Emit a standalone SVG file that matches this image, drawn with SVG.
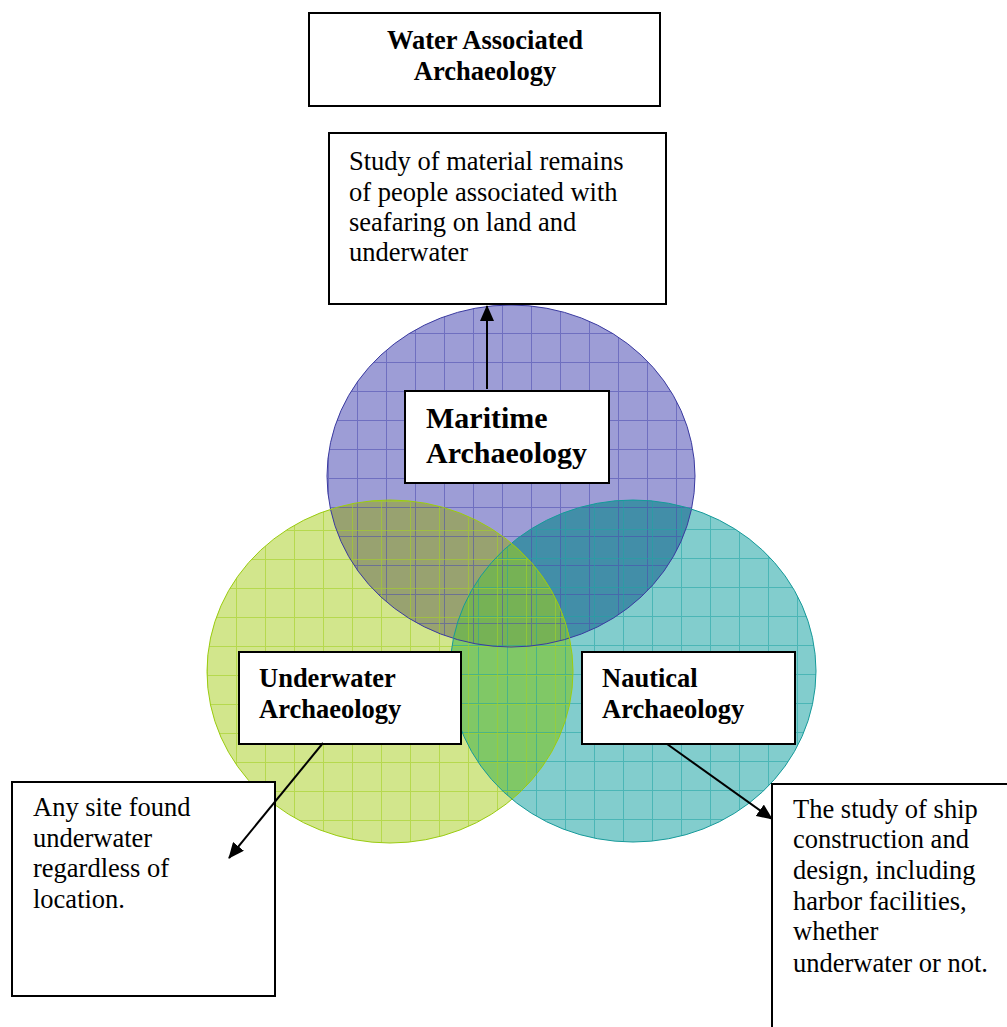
<svg xmlns="http://www.w3.org/2000/svg" width="1007" height="1027" viewBox="0 0 1007 1027">
<style>
.box{fill:#ffffff;stroke:#000000;stroke-width:2}
.t{font-family:"Liberation Serif","Times New Roman",serif;font-size:26.5px;fill:#000000}
.b{font-weight:bold}
.big{font-size:30px}
.conn{stroke:#000000;stroke-width:2;fill:none}
</style>
<defs>
<marker id="ah" markerWidth="16" markerHeight="14" refX="15" refY="7" orient="auto" markerUnits="userSpaceOnUse">
<path d="M0,0 L16,7 L0,14 z" fill="#000000"/>
</marker>
<clipPath id="cB"><ellipse cx="511" cy="476" rx="184" ry="171"/></clipPath>
<clipPath id="cG"><ellipse cx="390" cy="671.5" rx="183" ry="171.5"/></clipPath>
<clipPath id="cT"><ellipse cx="633" cy="671" rx="183" ry="171"/></clipPath>
<pattern id="gB" patternUnits="userSpaceOnUse" x="9" y="14" width="29" height="29">
<path d="M0.5,0 V29 M0,0.5 H29" stroke="#4a4aae" stroke-width="1" fill="none"/>
</pattern>
<pattern id="gG" patternUnits="userSpaceOnUse" x="4" y="8" width="29" height="29">
<path d="M0.5,0 V29 M0,0.5 H29" stroke="#a3d125" stroke-width="1" fill="none"/>
</pattern>
<pattern id="gT" patternUnits="userSpaceOnUse" x="14" y="7" width="29" height="29">
<path d="M0.5,0 V29 M0,0.5 H29" stroke="#1ea3a3" stroke-width="1" fill="none"/>
</pattern>
</defs>
<rect width="1007" height="1027" fill="#ffffff"/>

<g id="venn">
<ellipse cx="511" cy="476" rx="184" ry="171" fill="#9d9dd6"/>
<ellipse cx="633" cy="671" rx="183" ry="171" fill="#82cdcd"/>
<ellipse cx="390" cy="671.5" rx="183" ry="171.5" fill="#d2e68c"/>
<g clip-path="url(#cB)"><ellipse cx="633" cy="671" rx="183" ry="171" fill="#428ea8"/></g>
<g clip-path="url(#cB)"><ellipse cx="390" cy="671.5" rx="183" ry="171.5" fill="#98a270"/></g>
<g clip-path="url(#cT)"><ellipse cx="390" cy="671.5" rx="183" ry="171.5" fill="#80c866"/></g>
<g clip-path="url(#cB)"><g clip-path="url(#cT)"><ellipse cx="390" cy="671.5" rx="183" ry="171.5" fill="#76b255"/></g></g>
<ellipse cx="511" cy="476" rx="184" ry="171" fill="url(#gB)" opacity="0.55"/>
<ellipse cx="633" cy="671" rx="183" ry="171" fill="url(#gT)" opacity="0.55"/>
<ellipse cx="390" cy="671.5" rx="183" ry="171.5" fill="url(#gG)" opacity="0.6"/>
<ellipse cx="511" cy="476" rx="184" ry="171" fill="none" stroke="#3a3aa0" stroke-width="1"/>
<ellipse cx="633" cy="671" rx="183" ry="171" fill="none" stroke="#169a9a" stroke-width="1"/>
<ellipse cx="390" cy="671.5" rx="183" ry="171.5" fill="none" stroke="#9acb10" stroke-width="1"/>
</g>

<g id="title">
<rect class="box" x="309" y="13" width="351" height="93"/>
<text class="t b" x="485" y="49" text-anchor="middle">Water Associated</text>
<text class="t b" x="485" y="80" text-anchor="middle">Archaeology</text>
</g>

<g id="maritime-desc">
<rect class="box" x="329" y="133" width="337" height="171"/>
<text class="t" x="349" y="170">Study of material remains</text>
<text class="t" x="349" y="200.5">of people associated with</text>
<text class="t" x="349" y="231">seafaring on land and</text>
<text class="t" x="349" y="261">underwater</text>
</g>

<g id="maritime">
<rect class="box" x="405" y="391" width="204" height="92"/>
<text class="t b big" x="426" y="428">Maritime</text>
<text class="t b big" x="426" y="463">Archaeology</text>
</g>

<g id="underwater">
<rect class="box" x="239" y="652" width="222" height="92"/>
<text class="t b" x="259" y="687">Underwater</text>
<text class="t b" x="259" y="718">Archaeology</text>
</g>

<g id="nautical">
<rect class="box" x="582" y="652" width="213" height="92"/>
<text class="t b" x="602" y="687">Nautical</text>
<text class="t b" x="602" y="718">Archaeology</text>
</g>

<g id="underwater-desc">
<rect class="box" x="12" y="782" width="263" height="214"/>
<text class="t" x="33" y="816">Any site found</text>
<text class="t" x="33" y="847">underwater</text>
<text class="t" x="33" y="877">regardless of</text>
<text class="t" x="33" y="908">location.</text>
</g>

<g id="nautical-desc">
<rect class="box" x="772" y="784" width="245" height="260"/>
<text class="t" x="793" y="818">The study of ship</text>
<text class="t" x="793" y="848">construction and</text>
<text class="t" x="793" y="879">design, including</text>
<text class="t" x="793" y="910">harbor facilities,</text>
<text class="t" x="793" y="940">whether</text>
<text class="t" x="793" y="972">underwater or not.</text>
</g>

<g id="connectors">
<line class="conn" x1="487" y1="389" x2="487" y2="306" marker-end="url(#ah)"/>
<line class="conn" x1="323" y1="743" x2="229" y2="858" marker-end="url(#ah)"/>
<line class="conn" x1="667" y1="744" x2="772" y2="819" marker-end="url(#ah)"/>
</g>
</svg>
